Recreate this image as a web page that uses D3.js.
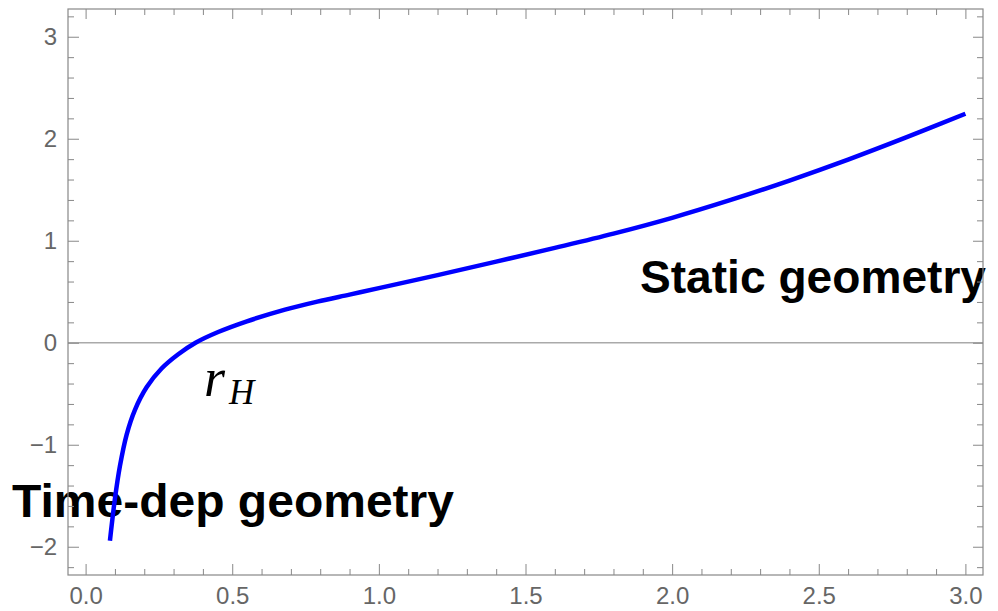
<!DOCTYPE html>
<html>
<head>
<meta charset="utf-8">
<script src="https://cdn.jsdelivr.net/npm/d3@7"></script>
<style>
  body { margin: 0; background: #fff; }
  svg { display: block; }
</style>
</head>
<body>
<div id="chart"></div>
<script>

// values
var rValues = [0.083, 0.1, 0.117, 0.14, 0.168, 0.208, 0.259, 0.316, 0.375, 0.452, 0.55, 0.68, 0.79, 0.9, 1.0, 1.2, 1.4, 1.6, 1.8, 2.0, 2.2, 2.4, 2.6, 2.8, 3.0];
var fValues = [-1.94, -1.53, -1.21, -0.9, -0.66, -0.437, -0.253, -0.113, 0, 0.105, 0.21, 0.325, 0.403, 0.472, 0.535, 0.663, 0.795, 0.93, 1.07, 1.225, 1.4, 1.59, 1.795, 2.015, 2.245];

var xMajor = [0, 0.5, 1, 1.5, 2, 2.5, 3];
var xMinor = [0.1, 0.2, 0.3, 0.4, 0.6, 0.7, 0.8, 0.9, 1.1, 1.2, 1.3, 1.4, 1.6, 1.7, 1.8, 1.9, 2.1, 2.2, 2.3, 2.4, 2.6, 2.7, 2.8, 2.9];
var yMajor = [-2, -1, 0, 1, 2, 3];
var yMinor = [-2.2, -1.8, -1.6, -1.4, -1.2, -0.8, -0.6, -0.4, -0.2, 0.2, 0.4, 0.6, 0.8, 1.2, 1.4, 1.6, 1.8, 2.2, 2.4, 2.6, 2.8, 3.2];

var labels = [
  {text: "Static geometry", x: 640, y: 293, w: 346},
  {text: "Time-dep geometry", x: 12, y: 517, w: 442}
];

const width = 998;
const height = 611;

var x = d3.scaleLinear().domain([-0.06, 3.06]).range([68, 983]);
var y = d3.scaleLinear().domain([-2.277, 3.272]).range([575, 9]);

const svg = d3.select('#chart')
  .append('svg')
  .attr('width', width)
  .attr('height', height);

svg.append("rect")
  .attr("width", width)
  .attr("height", height)
  .attr("fill", "#fff");

// big labels sit under the curve and frame
svg.selectAll("text.big")
  .data(labels)
  .enter()
  .append("text")
  .attr("class", "big")
  .attr("x", function(d){ return d.x; })
  .attr("y", function(d){ return d.y; })
  .attr("textLength", function(d){ return d.w; })
  .attr("lengthAdjust", "spacingAndGlyphs")
  .style("font-family", "'Liberation Sans', Arial, sans-serif")
  .style("font-weight", "bold")
  .style("font-size", "47px")
  .attr("fill", "#000")
  .text(function(d){ return d.text; });

// r_H label
var rh = svg.append("text")
  .attr("x", 204)
  .attr("y", 396)
  .style("font-family", "'Liberation Serif', 'Times New Roman', serif")
  .style("font-style", "italic")
  .attr("fill", "#000");
rh.append("tspan").style("font-size", "54px").text("r");
rh.append("tspan").attr("x", 229).attr("y", 404).style("font-size", "35px").text("H");

// zero line
svg.append("line")
  .attr("x1", x(-0.06)).attr("x2", x(3.06))
  .attr("y1", y(0)).attr("y2", y(0))
  .attr("stroke", "#aaa")
  .attr("stroke-width", 1.3);

// curve
var pts = rValues.map(function(r, i){ return [r, fValues[i]]; });
var line = d3.line()
  .x(function(d){ return x(d[0]); })
  .y(function(d){ return y(d[1]); })
  .curve(d3.curveCatmullRom.alpha(0.5));

svg.append("path")
  .datum(pts)
  .attr("d", line)
  .attr("fill", "none")
  .attr("stroke", "#0000ff")
  .attr("stroke-width", 4.5);

// frame with inward ticks
var axisColor = "#888";
function styleAxis(g) {
  g.select(".domain").remove();
  g.selectAll("line").attr("stroke", axisColor);
  g.selectAll("text")
    .attr("fill", "#666")
    .style("font-family", "'Liberation Sans', Arial, sans-serif")
    .style("font-size", "24px");
}

svg.append("g").attr("transform", "translate(0," + 575 + ")")
  .call(d3.axisBottom(x).tickValues(xMajor).tickSize(-11).tickPadding(12).tickFormat(d3.format(".1f")))
  .call(styleAxis);
svg.append("g").attr("transform", "translate(0," + 575 + ")")
  .call(d3.axisBottom(x).tickValues(xMinor).tickSize(-6).tickFormat(""))
  .call(styleAxis);
svg.append("g").attr("transform", "translate(0," + 9 + ")")
  .call(d3.axisTop(x).tickValues(xMajor).tickSize(-10).tickFormat(""))
  .call(styleAxis);
svg.append("g").attr("transform", "translate(0," + 9 + ")")
  .call(d3.axisTop(x).tickValues(xMinor).tickSize(-6).tickFormat(""))
  .call(styleAxis);

svg.append("g").attr("transform", "translate(" + 68 + ",0)")
  .call(d3.axisLeft(y).tickValues(yMajor).tickSize(-11).tickPadding(11).tickFormat(d3.format("d")))
  .call(styleAxis);
svg.append("g").attr("transform", "translate(" + 68 + ",0)")
  .call(d3.axisLeft(y).tickValues(yMinor).tickSize(-6).tickFormat(""))
  .call(styleAxis);
svg.append("g").attr("transform", "translate(" + 983 + ",0)")
  .call(d3.axisRight(y).tickValues(yMajor).tickSize(-10).tickFormat(""))
  .call(styleAxis);
svg.append("g").attr("transform", "translate(" + 983 + ",0)")
  .call(d3.axisRight(y).tickValues(yMinor).tickSize(-6).tickFormat(""))
  .call(styleAxis);

svg.append("rect")
  .attr("x", 68).attr("y", 9)
  .attr("width", 983 - 68).attr("height", 575 - 9)
  .attr("fill", "none")
  .attr("stroke", axisColor)
  .attr("stroke-width", 1.2);

</script>
</body>
</html>
